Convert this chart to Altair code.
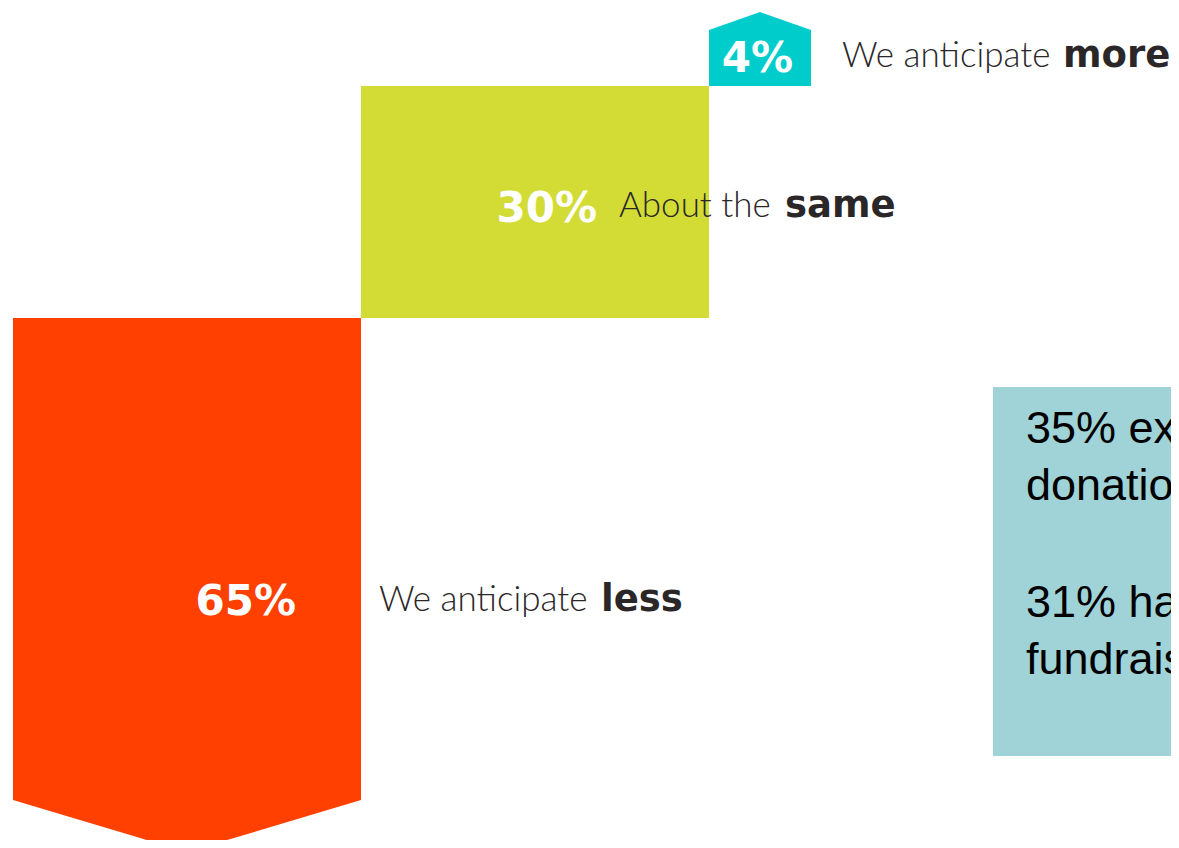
import altair as alt
import pandas as pd

# ---- data ----
categories = ["less", "same", "more"]
values = [65, 30, 4]
pct_labels = ["65%", "30%", "4%"]
lead_words = ["We anticipate", "About the", "We anticipate"]
key_words = ["less", "same", "more"]
colors = ["#FF4000", "#D2DC35", "#00CCCC"]
note_para1 = ["35% expect", "donations"]
note_para2 = ["31% have", "fundraising"]

# ---- build table (waterfall: cumulative start / end) ----
starts, ends = [], []
acc = 0
for v in values:
    starts.append(acc)
    acc += v
    ends.append(acc)
df = pd.DataFrame({
    "category": categories,
    "value": values,
    "start": starts,
    "end": ends,
    "mid": [(s + e) / 2 for s, e in zip(starts, ends)],
    "x0": list(range(len(values))),
    "x1": [i + 1 for i in range(len(values))],
    "pct": pct_labels,
    "lead": lead_words,
    "key": key_words,
    "color": colors,
})

TIP = -7.0     # arrow tip below the first bar
ROOF = 2.5     # roof height above the last bar

# stylised (piecewise) scales reproducing the infographic proportions
xs = alt.Scale(domain=[0, 1, 2, 3], range=[5, 353, 701, 803], nice=False, zero=False)
ys = alt.Scale(domain=[TIP, 0, 65, 95, 99, 99 + ROOF],
               range=[844, 792, 310, 78, 22, 4], nice=False, zero=False)
cscale = alt.Scale(domain=categories, range=colors)

base = alt.Chart(df)

bars = base.mark_rect(clip=True).encode(
    x=alt.X("x0:Q", scale=xs, axis=None),
    x2="x1:Q",
    y=alt.Y("start:Q", scale=ys, axis=None),
    y2="end:Q",
    color=alt.Color("category:N", scale=cscale, legend=None),
)

# arrow tip under first bar and roof over last bar
first, last = df.iloc[0], df.iloc[-1]
tip_df = pd.DataFrame({
    "x": [first.x0, (first.x0 + first.x1) / 2, first.x1],
    "ya": [first.start + 3] * 3,
    "yb": [first.start, first.start + TIP, first.start],
    "category": [first.category] * 3,
})
roof_df = pd.DataFrame({
    "x": [last.x0, (last.x0 + last.x1) / 2, last.x1],
    "ya": [last.end - 0.5] * 3,
    "yb": [last.end, last.end + ROOF, last.end],
    "category": [last.category] * 3,
})
shapes = []
for d in (tip_df, roof_df):
    shapes.append(alt.Chart(d).mark_area(clip=True, interpolate="linear").encode(
        x=alt.X("x:Q", scale=xs, axis=None),
        y=alt.Y("ya:Q", scale=ys, axis=None),
        y2="yb:Q",
        color=alt.Color("category:N", scale=cscale, legend=None),
    ))

# text offsets (layout, per row)
pct_dx = [-65, -112, -18]
pct_dy = [56, 20, 14]
lead_dx = [18, -90, 31]
key_dx = [240, 76, 252]
txt_dy = [52, 15, 9]

texts = []
for i, cat in enumerate(categories):
    row = base.transform_filter(alt.datum.category == cat)
    enc = dict(x=alt.X("x1:Q", scale=xs, axis=None), y=alt.Y("mid:Q", scale=ys, axis=None))
    texts.append(row.mark_text(align="right", baseline="alphabetic", dx=pct_dx[i], dy=pct_dy[i],
                               font="DejaVu Sans", fontWeight="bold", fontSize=42,
                               color="#FFFFFF").encode(text="pct:N", **enc))
    texts.append(row.mark_text(align="left", baseline="alphabetic", dx=lead_dx[i], dy=txt_dy[i],
                               font="Lato", fontWeight=300, fontSize=35,
                               color="#2B2728").encode(text="lead:N", **enc))
    texts.append(row.mark_text(align="left", baseline="alphabetic", dx=key_dx[i], dy=txt_dy[i],
                               font="DejaVu Sans", fontWeight="bold", fontSize=37,
                               color="#2B2728").encode(text="key:N", **enc))

# side note box
note_df = pd.DataFrame({"p1": [note_para1], "p2": [note_para2]})
box = alt.Chart(note_df).mark_rect(color="#A0D3D7", clip=True).encode(
    x=alt.value(985), x2=alt.value(1400), y=alt.value(379), y2=alt.value(748)
)
note_style = dict(align="left", baseline="alphabetic", font="Liberation Sans", fontSize=45,
                  lineHeight=57, color="#000000", clip=True)
note1 = alt.Chart(note_df).mark_text(**note_style).encode(
    x=alt.value(1018), y=alt.value(435), text="p1:N")
note2 = alt.Chart(note_df).mark_text(**note_style).encode(
    x=alt.value(1018), y=alt.value(609), text="p2:N")

chart = alt.layer(bars, *shapes, *texts, box, note1, note2).properties(
    width=1163, height=832, padding=0, autosize=alt.AutoSizeParams(type="none")
).configure_view(stroke=None)

chart.save("out.html", embed_options={"renderer": "svg", "actions": False})
